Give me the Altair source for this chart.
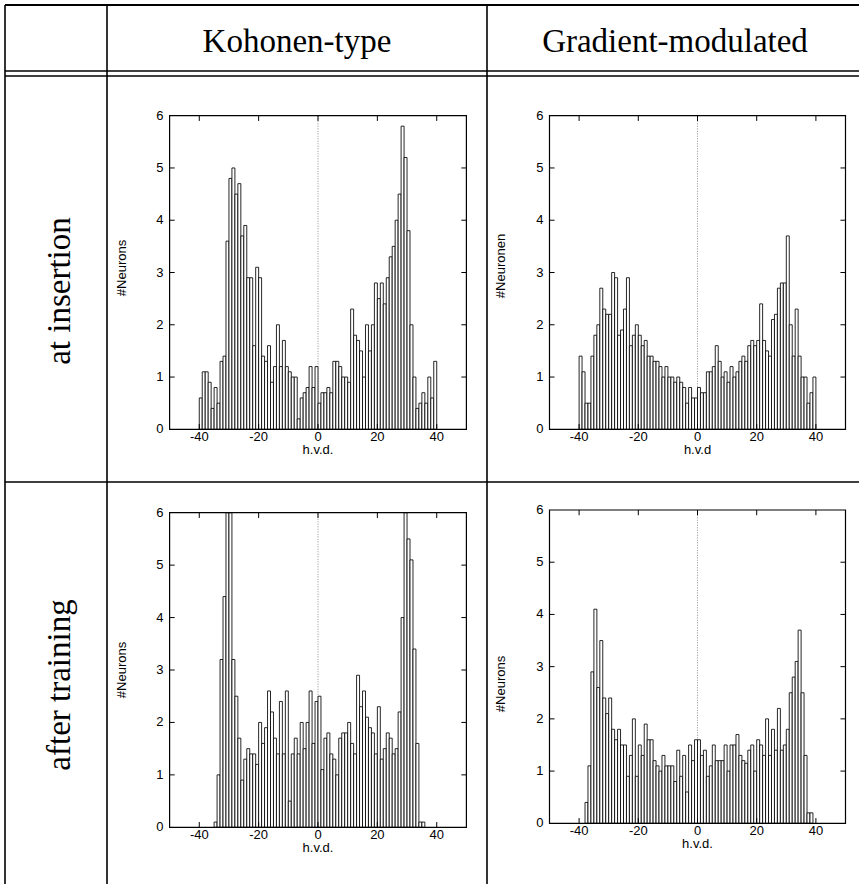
import altair as alt
import pandas as pd

# ---------------- data ----------------
TICKS_X = [-40, -20, 0, 20, 40]
TICK_LABELS_X = ["-40", "-20", "0", "20", "40"]
TICKS_Y = [0, 1, 2, 3, 4, 5, 6]

# Kohonen-type, at insertion (bins of width 1, left edge)
tl_bins = list(range(-40, 40))
tl_counts = [0.6, 1.1, 1.1, 0.9, 0.4, 0.8, 0.5, 1.3, 1.4, 3.6,
             4.8, 5.0, 4.5, 4.7, 3.7, 3.9, 2.9, 2.9, 1.6, 3.1,
             2.9, 1.4, 1.3, 1.6, 0.9, 1.2, 2.0, 1.2, 1.7, 1.2,
             1.1, 1.0, 1.0, 0.2, 0.6, 0.7, 0.8, 1.2, 0.8, 1.2,
             0.5, 0.7, 0.7, 0.8, 0.7, 1.3, 1.3, 1.2, 1.0, 1.0,
             0.9, 2.3, 1.8, 1.7, 1.5, 1.0, 2.0, 1.5, 2.0, 2.8,
             2.5, 2.8, 2.4, 2.9, 3.3, 3.5, 4.0, 4.5, 5.8, 5.2,
             3.8, 2.0, 1.0, 0.4, 0.5, 0.7, 0.5, 1.0, 0.6, 1.3]

# Gradient-modulated, at insertion
tr_bins = list(range(-40, 40))
tr_counts = [1.4, 1.1, 0.5, 0.5, 1.4, 1.8, 2.0, 2.7, 2.3, 2.2,
             2.2, 3.0, 2.9, 1.8, 1.9, 2.3, 2.9, 1.6, 1.8, 2.0,
             1.8, 1.6, 1.7, 1.4, 1.4, 1.3, 1.3, 1.2, 1.0, 1.2,
             1.0, 1.0, 0.9, 1.0, 0.9, 0.8, 0.5, 0.8, 0.6, 0.6,
             0.8, 0.7, 0.7, 1.1, 1.1, 1.2, 1.6, 1.3, 1.0, 1.1,
             0.9, 1.2, 1.0, 1.1, 1.3, 1.4, 1.3, 1.6, 1.7, 1.6,
             1.7, 2.4, 1.7, 1.5, 1.4, 2.1, 2.2, 2.7, 2.8, 2.8,
             3.7, 2.0, 1.4, 2.3, 1.4, 1.0, 1.0, 0.5, 0.7, 1.0]

# Kohonen-type, after training
bl_bins = list(range(-35, 36))
bl_counts = [0.1, 1.0, 3.2, 4.4, 6.8, 7.0, 3.2, 2.5, 1.7, 0.9,
             1.3, 1.5, 1.4, 1.4, 1.2, 2.0, 1.6, 1.9, 2.6, 2.2,
             1.7, 1.4, 2.4, 1.4, 2.6, 0.5, 1.4, 1.7, 1.4, 2.0,
             1.5, 2.0, 2.6, 1.6, 2.4,
             2.5, 1.1, 1.7, 1.8, 1.4, 1.3, 1.0, 1.7, 1.8, 1.8,
             2.0, 1.6, 1.4, 2.9, 2.3, 2.6, 2.1, 1.9, 1.8, 1.4,
             2.3, 1.3, 1.5, 1.8, 1.7, 1.4, 1.5, 2.2, 4.0, 6.6,
             5.5, 5.1, 3.4, 1.6, 0.1, 0.1]

# Gradient-modulated, after training
br_bins = list(range(-38, 39))
br_counts = [0.4, 1.1, 2.9, 4.1, 2.6, 3.5, 2.4, 2.1, 2.4, 1.8,
             1.6, 1.8, 1.5, 1.5, 0.9, 1.3, 2.0, 0.9, 1.5, 1.3,
             1.9, 1.6, 1.6, 1.2, 1.1, 1.0, 1.3, 1.1, 1.1, 1.1,
             0.8, 1.4, 0.9, 1.3, 0.6, 1.5, 1.2, 1.6,
             1.6, 1.3, 1.4, 0.9, 1.1, 1.5, 1.2, 1.2, 1.2, 1.5,
             1.0, 1.5, 1.5, 1.7, 1.3, 1.2, 1.15, 1.4, 1.5, 1.0,
             1.6, 1.5, 1.3, 2.0, 1.3, 1.8, 1.4, 2.2, 1.4, 1.5,
             1.8, 2.5, 2.8, 3.1, 3.7, 2.5, 1.3, 0.2, 0.2]

COL_TITLES = ["Kohonen-type", "Gradient-modulated"]
ROW_TITLES = ["at insertion", "after training"]

SERIF = "Liberation Serif"
SANS = "Liberation Sans"
W, H = 859, 884

dummy = pd.DataFrame({"d": [0]})


def rule(x1, x2, y1, y2, w=1.5):
    return alt.Chart(dummy).mark_rule(color="black", strokeWidth=w).encode(
        x=alt.value(x1), x2=alt.value(x2), y=alt.value(y1), y2=alt.value(y2))


def label(txt, x, y, size, font, angle=0, align="center", baseline="alphabetic"):
    kw = dict(text=txt, font=font, fontSize=size, align=align, baseline=baseline, color="black")
    if angle:
        kw["angle"] = angle
    return alt.Chart(dummy).mark_text(**kw).encode(x=alt.value(x), y=alt.value(y))


def panel(bins, counts, x0, x1, ytop, ybot, ytitle, ytitle_x, ytitle_y, xtitle):
    xs = alt.Scale(domain=[-50, 50], range=[x0, x1], nice=False, zero=False)
    ys = alt.Scale(domain=[0, 6], range=[ybot, ytop], nice=False, zero=False, clamp=True)

    def X(f):
        return alt.X(f, scale=xs, axis=None)

    def Y(f):
        return alt.Y(f, scale=ys, axis=None)

    bars_df = pd.DataFrame({"lo": bins, "hi": [b + 1 for b in bins], "n": counts,
                            "base": [0] * len(bins)})
    zero_df = pd.DataFrame({"v": [0], "a": [0], "b": [6]})
    frame_df = pd.DataFrame({"xa": [-50], "xb": [50], "ya": [0], "yb": [6]})
    xt = []
    for v in TICKS_X:
        xt.append({"v": v, "a": 0, "b": 0.1})
        xt.append({"v": v, "a": 6, "b": 5.9})
    yt = []
    for v in TICKS_Y[1:-1]:
        yt.append({"v": v, "a": -50, "b": -48.3})
        yt.append({"v": v, "a": 50, "b": 48.3})
    xt_df = pd.DataFrame(xt)
    yt_df = pd.DataFrame(yt)
    xl_df = pd.DataFrame({"v": TICKS_X, "lab": TICK_LABELS_X, "y0": [0] * len(TICKS_X)})
    yl_df = pd.DataFrame({"v": TICKS_Y, "lab": [str(t) for t in TICKS_Y],
                          "x0": [-50] * len(TICKS_Y)})
    xtitle_df = pd.DataFrame({"v": [0], "y0": [0], "lab": [xtitle]})

    zero = alt.Chart(zero_df).mark_rule(color="#777777", strokeWidth=0.8,
                                        strokeDash=[1, 1.5]).encode(
        x=X("v:Q"), y=Y("a:Q"), y2="b:Q")
    bars = alt.Chart(bars_df).mark_rect(fill="white", stroke="black",
                                        strokeWidth=0.85).encode(
        x=X("lo:Q"), x2="hi:Q", y=Y("n:Q"), y2="base:Q")
    frame = alt.Chart(frame_df).mark_rect(fillOpacity=0, stroke="black",
                                          strokeWidth=1.2).encode(
        x=X("xa:Q"), x2="xb:Q", y=Y("ya:Q"), y2="yb:Q")
    xticks = alt.Chart(xt_df).mark_rule(color="black", strokeWidth=1).encode(
        x=X("v:Q"), y=Y("a:Q"), y2="b:Q")
    yticks = alt.Chart(yt_df).mark_rule(color="black", strokeWidth=1).encode(
        y=Y("v:Q"), x=X("a:Q"), x2="b:Q")
    xlabels = alt.Chart(xl_df).mark_text(font=SANS, fontSize=13, baseline="top",
                                         align="center", dy=2, color="black").encode(
        x=X("v:Q"), y=Y("y0:Q"), text="lab:N")
    ylabels = alt.Chart(yl_df).mark_text(font=SANS, fontSize=13, baseline="middle",
                                         align="right", dx=-6, color="black").encode(
        x=X("x0:Q"), y=Y("v:Q"), text="lab:N")
    xtitle_t = alt.Chart(xtitle_df).mark_text(font=SANS, fontSize=13, baseline="top",
                                              align="center", dy=15, color="black").encode(
        x=X("v:Q"), y=Y("y0:Q"), text="lab:N")
    ytitle_t = label(ytitle, ytitle_x, ytitle_y, 13, SANS, angle=270)
    return alt.layer(zero, bars, frame, xticks, yticks, xlabels, ylabels, xtitle_t, ytitle_t)


decor = [
    rule(5, W, 5, 5, 2.2),
    rule(5, 5, 5, H, 1.6),
    rule(107, 107, 5, H, 1.6),
    rule(487, 487, 5, H, 1.6),
    rule(5, W, 71, 71, 1.5),
    rule(5, W, 76, 76, 1.5),
    rule(5, W, 482, 482, 1.5),
    label(COL_TITLES[0], 297, 52, 33, SERIF),
    label(COL_TITLES[1], 675, 52, 33, SERIF),
    label(ROW_TITLES[0], 70, 291, 33, SERIF, angle=270),
    label(ROW_TITLES[1], 70, 685, 33, SERIF, angle=270),
]

panels = [
    panel(tl_bins, tl_counts, 169.6, 466.4, 115.7, 429.3, "#Neurons", 126, 268, "h.v.d."),
    panel(tr_bins, tr_counts, 549.5, 845.5, 115.7, 429.3, "#Neuronen", 505, 266, "h.v.d"),
    panel(bl_bins, bl_counts, 169.6, 466.4, 512.7, 827.3, "#Neurons", 126, 670, "h.v.d."),
    panel(br_bins, br_counts, 549.5, 845.5, 510.0, 823.3, "#Neurons", 505, 684, "h.v.d."),
]

chart = alt.layer(*decor, *panels).resolve_scale(
    x="independent", y="independent"
).properties(
    width=W, height=H, padding=0,
    autosize=alt.AutoSizeParams(type="none"),
    background="white",
).configure_view(stroke=None)

chart.save("out.html", embed_options={"renderer": "svg", "actions": False})
